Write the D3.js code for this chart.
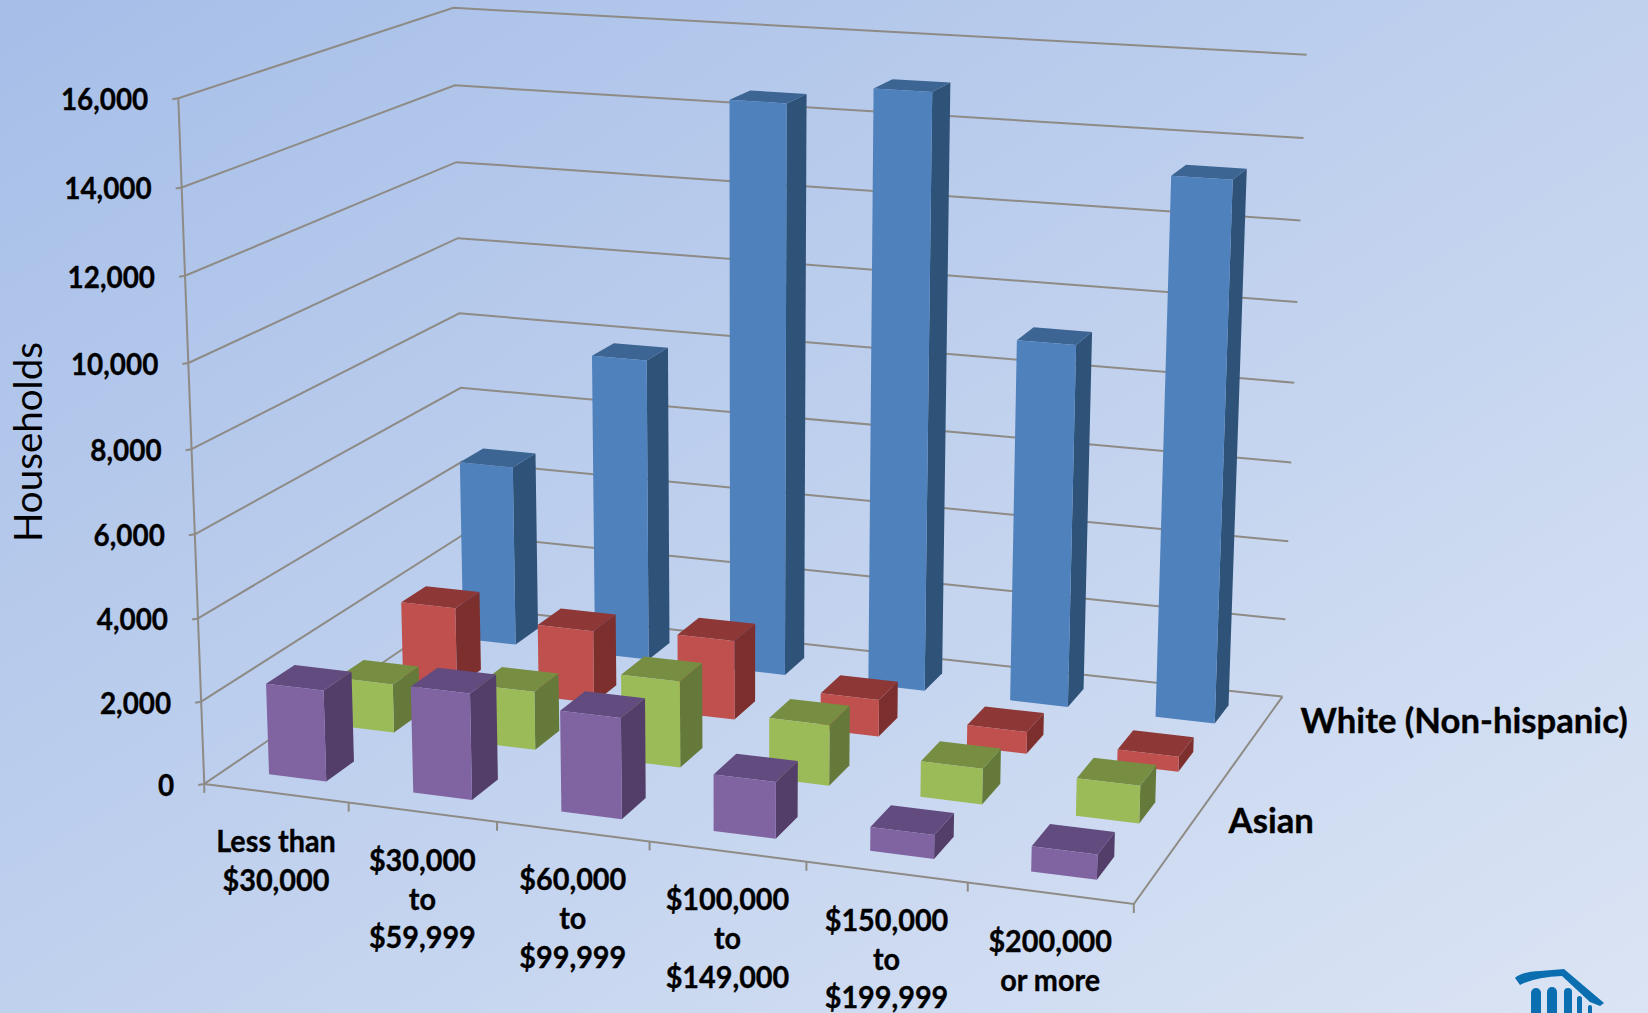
<!DOCTYPE html>
<html><head><meta charset="utf-8">
<script src="https://cdn.jsdelivr.net/npm/d3@7"></script>
<style>html,body{margin:0;padding:0;overflow:hidden}svg{display:block}
text{font-family:Lato,"Noto Sans",sans-serif;fill:#000}</style></head><body>
<svg id="c" width="1648" height="1013"></svg>
<script>
// ---------- data ----------
const categories = ["Less than $30,000","$30,000 to $59,999","$60,000 to $99,999","$100,000 to $149,000","$150,000 to $199,999","$200,000 or more"];
const categoryLines = [["Less than","$30,000"],["$30,000","to","$59,999"],["$60,000","to","$99,999"],["$100,000","to","$149,000"],["$150,000","to","$199,999"],["$200,000","or more"]];
const depthKeys = ["back","second","third","front"];
const depthLabels = ["White (Non-hispanic)","","Asian",""];
const whiteValues  = [4730,7830,14530,15020,9120,13380];
const redValues    = [2050,1850,2000,920,545,370];
const asianValues  = [1215,1445,2115,1475,860,900];
const purpleValues = [2215,2560,2405,1335,560,580];
const valuesByDepth = [whiteValues,redValues,asianValues,purpleValues];
const frontColors = ["#4F81BD","#C0504D","#9BBB59","#8064A2"];
const sideColors  = ["#2F5279","#7D2F2E","#657A3A","#533E69"];
const topColors   = ["#3D6594","#8D3736","#778E42","#624B7F"];

// ---------- perspective frame: unit cube corners and ticks as seen in the picture ----------
const frame = [
 [0,0,0,205,782],[0,0,.125,201,700],[0,0,.25,198.6,617],[0,0,.375,195,533],[0,0,.5,192,448],[0,0,.625,188,363],[0,0,.75,185,276],[0,0,.875,181,188],[0,0,1,178.7,98],
 [0,1,.375,460,387.5],[0,1,.5,459,313],[0,1,.625,459,238],[0,1,.75,457,162.5],[0,1,.875,454.5,86],[0,1,1,452,8],
 [1,1,0,1282,696],[1,1,.125,1286,619],[1,1,.25,1288.5,541],[1,1,.375,1291,462.5],[1,1,.5,1294,382.5],[1,1,.625,1297,302],[1,1,.75,1301,221],[1,1,.875,1304,138],[1,1,1,1307,55],
 [1/6,0,0,349,810],[2/6,0,0,497,822],[3/6,0,0,649.5,842],[4/6,0,0,805.5,862],[5/6,0,0,967,882],[1,0,0,1134,903]
];
function solve(A,b){const n=b.length;const M=A.map((r,i)=>[...r,b[i]]);
 for(let i=0;i<n;i++){let p=i;for(let r=i+1;r<n;r++)if(Math.abs(M[r][i])>Math.abs(M[p][i]))p=r;[M[i],M[p]]=[M[p],M[i]];
  for(let r=0;r<n;r++)if(r!==i){const f=M[r][i]/M[i][i];for(let c=i;c<=n;c++)M[r][c]-=f*M[i][c];}}
 return M.map((r,i)=>r[n]/r[i]);}
const P=(()=>{const ATA=d3.range(11).map(()=>Array(11).fill(0)),ATb=Array(11).fill(0);
 const add=(r,t)=>{for(let i=0;i<11;i++){ATb[i]+=r[i]*t;for(let j=0;j<11;j++)ATA[i][j]+=r[i]*r[j];}};
 frame.forEach(([u,v,w,x,y])=>{add([u,v,w,1,0,0,0,0,-x*u,-x*v,-x*w],x);add([0,0,0,0,u,v,w,1,-y*u,-y*v,-y*w],y);});
 return solve(ATA,ATb);})();
function project(u,v,w){const d=P[8]*u+P[9]*v+P[10]*w+1;return [(P[0]*u+P[1]*v+P[2]*w+P[3])/d,(P[4]*u+P[5]*v+P[6]*w+P[7])/d];}

// ---------- scales ----------
const x = d3.scaleBand().domain(categories).range([0,1]).paddingInner(.6).paddingOuter(.3);
const z = d3.scaleBand().domain(depthKeys).range([1,0]).paddingInner(.6).paddingOuter(.3);
const xOuter = d3.scaleBand().domain(categories).range([0,1]);
const y = d3.scaleLinear().domain([0,16000]).range([0,1]);
const fmt = d3.format(",");
const line = d3.line();
const poly = pts => line(pts)+"Z";

const svg = d3.select("#c");
const defs = svg.append("defs");
const g = defs.append("linearGradient").attr("id","bg").attr("gradientUnits","userSpaceOnUse")
 .attr("x1",0).attr("y1",0).attr("x2",904).attr("y2",1470);
[[0,"#A6BEE8"],[.5,"#C0D1EE"],[1,"#DBE4F4"]].forEach(([o,c])=>g.append("stop").attr("offset",o).attr("stop-color",c));
svg.append("rect").attr("width",1648).attr("height",1013).attr("fill","url(#bg)");

// ---------- walls, floor, ticks ----------
const gridStroke="#8E8B86";
const frameG = svg.append("g").attr("fill","none").attr("stroke",gridStroke).attr("stroke-width",2);
const yTicks = y.ticks(8);
frameG.selectAll("path.grid").data(yTicks).join("path").attr("class","grid")
 .attr("d",t=>line([project(0,0,y(t)),project(0,1,y(t)),project(1,1,y(t))]));
frameG.append("path").attr("d",line([project(0,0,y(16000)),project(0,0,0)]));
frameG.append("path").attr("d",line([project(0,0,0),project(1,0,0),project(1,1,0)]));
frameG.selectAll("path.ytick").data(yTicks).join("path").attr("class","ytick")
 .attr("d",t=>{const p=project(0,0,y(t));return line([p,[p[0]-6,p[1]+1]]);});
frameG.selectAll("path.xtick").data(d3.range(7)).join("path").attr("class","xtick")
 .attr("d",i=>{const p=project(i/6,0,0);return line([p,[p[0],p[1]+9]]);});

// ---------- bars, back to front ----------
const barsG = svg.append("g");
depthKeys.forEach((key,di)=>{
 categories.forEach((cat,ci)=>{
  const u0=x(cat),u1=u0+x.bandwidth();
  const v0=z(key), v1=z(key)+z.bandwidth();
  const w=y(valuesByDepth[di][ci]);
  const bar=barsG.append("g").datum({key,cat,value:valuesByDepth[di][ci]});
  bar.append("path").attr("fill",sideColors[di]).attr("d",poly([project(u1,v0,0),project(u1,v1,0),project(u1,v1,w),project(u1,v0,w)]));
  bar.append("path").attr("fill",topColors[di]).attr("d",poly([project(u0,v0,w),project(u1,v0,w),project(u1,v1,w),project(u0,v1,w)]));
  bar.append("path").attr("fill",frontColors[di]).attr("d",poly([project(u0,v0,0),project(u1,v0,0),project(u1,v0,w),project(u0,v0,w)]));
 });
});

// ---------- text ----------
function put(sel,px,py,sq){sel.attr("transform",`translate(${px},${py}) scale(${sq},1)`);}
const boldAttrs=s=>s.attr("font-weight",700).style("stroke","#000").style("stroke-width",.35);
const tg=svg.append("g").attr("font-size",30).call(boldAttrs);
yTicks.forEach(t=>{const p=project(0,0,y(t));
 tg.append("text").attr("text-anchor","end").attr("dominant-baseline","central").text(fmt(t)).call(put,p[0]-30,p[1],.93);});
categories.forEach((cat,i)=>{const p=project(xOuter(cat)+xOuter.bandwidth()/2,0,0);
 categoryLines[i].forEach((l,k)=>tg.append("text").attr("text-anchor","middle").attr("dominant-baseline","central").text(l).call(put,p[0],p[1]+47+k*38.8,.96));});
const sg=svg.append("g").attr("font-size",34).call(boldAttrs);
const serPos=[[1300.6,720],[0,0],[1228.6,820],[0,0]];
depthLabels.forEach((l,i)=>{if(l)sg.append("text").attr("dominant-baseline","central").text(l).call(put,serPos[i][0],serPos[i][1],1.02);});
svg.append("text").attr("font-size",38).attr("text-anchor","middle").attr("dominant-baseline","central")
 .attr("transform","translate(27,442) rotate(-90)").attr("textLength",200).attr("lengthAdjust","spacingAndGlyphs").text("Households");

// ---------- logo in the corner ----------
const logo=svg.append("g").attr("fill","#0A6EB0").attr("stroke","#0A6EB0").attr("stroke-linecap","round");
logo.append("path").attr("stroke","none").attr("d","M1515,978 Q1521,972 1540,971 L1564,969 L1604,1003 L1600,1006 L1590,1002 L1562,976 Q1535,977 1520,985 Z");
[[1536,988,10],[1552,987,10],[1568,988,8],[1579.5,996,5],[1590,1005,4]].forEach(([cx,cy,sw])=>
 logo.append("line").attr("x1",cx).attr("y1",cy+sw/2).attr("x2",cx).attr("y2",1020).attr("stroke-width",sw));
</script></body></html>
